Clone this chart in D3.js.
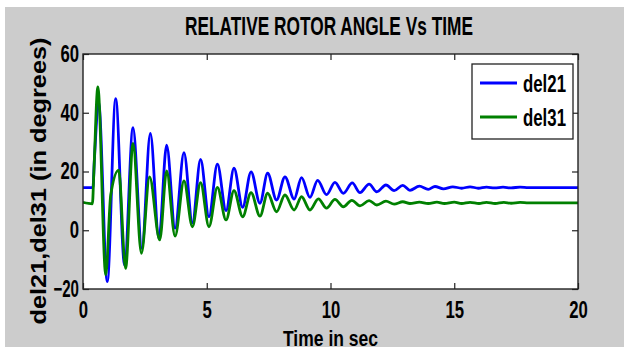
<!DOCTYPE html>
<html>
<head>
<meta charset="utf-8">
<script src="https://cdn.jsdelivr.net/npm/d3@7"></script>
<style>
    html, body { margin: 0; padding: 0; background: #ffffff; }
    svg { display: block; }
    text { font-family: "Liberation Sans", Arial, sans-serif; font-weight: bold; fill: #000; }
</style>
</head>
<body>
<div id="chart"></div>
<script>
// Relative rotor angle data (degrees vs seconds)
const timeDel21 = [0, 0.40, 0.46, 0.63, 0.98, 1.32, 1.68, 2.02, 2.38, 2.72,
    3.07, 3.38, 3.72, 4.08, 4.42, 4.75, 5.09, 5.43, 5.78, 6.10,
    6.45, 6.79, 7.15, 7.46, 7.82, 8.16, 8.53, 8.83, 9.17, 9.48,
    9.84, 10.18, 10.52, 10.88, 11.19, 11.56, 11.87, 12.24, 12.57, 12.92,
    13.21, 13.59, 13.95, 14.22, 14.56, 14.94, 15.3, 15.64, 15.97, 16.3,
    16.63, 16.97, 17.3, 17.66, 18.0, 20];
const del21 = [14.5, 14.5, 24, 43.5, -17.5, 44.8, -11.8, 34.9, -6.2, 33,
    -2.8, 29, 0.7, 26.4, 2.5, 24.1, 4.6, 22.5, 6.7, 21.1,
    7.8, 19.9, 9.2, 19.4, 10.3, 18.2, 10.6, 17.9, 11.2, 17.0,
    12.1, 16.3, 12.6, 16.1, 12.8, 15.7, 13.1, 15.4, 13.5, 15.3,
    13.6, 15.0, 13.9, 14.9, 14.1, 14.8, 14.3, 14.8, 14.3, 14.7,
    14.4, 14.7, 14.4, 14.7, 14.5, 14.5];

const timeDel31 = [0, 0.38, 0.44, 0.60, 0.92, 1.12, 1.44, 1.72, 2.02, 2.36,
    2.69, 3.10, 3.38, 3.72, 4.08, 4.42, 4.75, 5.09, 5.43, 5.78,
    6.10, 6.45, 6.79, 7.15, 7.46, 7.82, 8.16, 8.53, 8.83, 9.17,
    9.51, 9.84, 10.18, 10.52, 10.86, 11.19, 11.56, 11.87, 12.24, 12.57,
    12.92, 13.21, 13.59, 13.95, 14.3, 14.6, 15.0, 15.3, 15.64, 16.0,
    16.3, 16.65, 17.0, 17.3, 17.66, 18.0, 20];
const del31 = [9.5, 9.0, 20, 48.8, -15.2, 12, 20.5, -13, 29.6, -7.9,
    18.2, -3.3, 20.2, -2.0, 16.8, 1.2, 16.2, 1.2, 14.6, 3.5,
    13.5, 4.6, 12.8, 4.8, 12.6, 6.3, 12.0, 6.9, 11.4, 6.9,
    10.7, 7.5, 10.5, 8.0, 10.2, 8.3, 10.1, 8.6, 9.9, 8.9,
    9.7, 9.1, 9.6, 9.1, 9.6, 9.1, 9.6, 9.1, 9.5, 9.1,
    9.5, 9.1, 9.5, 9.2, 9.5, 9.3, 9.3];

const xTicks = [0, 5, 10, 15, 20];
const yTicks = [-20, 0, 20, 40, 60];
const seriesNames = ['del21', 'del31'];
const seriesColors = ['#0000ff', '#008000'];

const W = 624, H = 347;
const plot = { left: 83, right: 578, top: 54, bottom: 289 };

const svg = d3.select('#chart')
    .append('svg')
    .attr('width', W)
    .attr('height', H);

// figure background (grey, with a white strip above and left)
svg.append('rect').attr('x', 5).attr('y', 7).attr('width', W - 5).attr('height', H - 7).attr('fill', '#cccccc');
svg.append('rect')
    .attr('x', plot.left).attr('y', plot.top)
    .attr('width', plot.right - plot.left).attr('height', plot.bottom - plot.top)
    .attr('fill', '#ffffff');

const x = d3.scaleLinear().domain([0, 20]).range([plot.left, plot.right]);
const y = d3.scaleLinear().domain([-20, 60]).range([plot.bottom, plot.top]);

// narrow bold text: squeeze digits to match the figure
const numWidth = s => String(s).replace('-', '').length * 9.3 + (String(s).includes('-') ? 7 : 0);

svg.append('g')
    .attr('transform', `translate(0,${plot.bottom})`)
    .call(d3.axisBottom(x).tickValues(xTicks).tickSizeInner(-6).tickSizeOuter(0).tickPadding(13))
    .call(g => g.selectAll('text')
        .attr('font-size', 23)
        .attr('textLength', d => numWidth(d))
        .attr('lengthAdjust', 'spacingAndGlyphs'));

svg.append('g')
    .attr('transform', `translate(${plot.left},0)`)
    .call(d3.axisLeft(y).tickValues(yTicks).tickSizeInner(-6).tickSizeOuter(0).tickPadding(4))
    .call(g => g.selectAll('text')
        .attr('font-size', 23)
        .attr('textLength', d => numWidth(d))
        .attr('lengthAdjust', 'spacingAndGlyphs'));

svg.append('g')
    .attr('transform', `translate(0,${plot.top})`)
    .call(d3.axisTop(x).tickValues(xTicks).tickSizeInner(-6).tickSizeOuter(0).tickFormat(''));

svg.append('g')
    .attr('transform', `translate(${plot.right},0)`)
    .call(d3.axisRight(y).tickValues(yTicks).tickSizeInner(-6).tickSizeOuter(0).tickFormat(''));

svg.selectAll('.domain').remove();
svg.selectAll('.tick line').attr('stroke', '#222').attr('stroke-width', 1.2);

// series lines
const line = d3.line()
    .x(d => x(d[0]))
    .y(d => y(d[1]))
    .curve(d3.curveMonotoneX);

const series = [
    d3.zip(timeDel21, del21),
    d3.zip(timeDel31, del31)
];

svg.append('clipPath').attr('id', 'plotClip')
    .append('rect')
    .attr('x', plot.left).attr('y', plot.top)
    .attr('width', plot.right - plot.left).attr('height', plot.bottom - plot.top);

svg.append('g')
    .attr('clip-path', 'url(#plotClip)')
    .selectAll('path')
    .data(series)
    .enter()
    .append('path')
    .attr('d', line)
    .attr('fill', 'none')
    .attr('stroke', (d, i) => seriesColors[i])
    .attr('stroke-width', 2.8)
    .attr('stroke-linejoin', 'round');

// axes box
svg.append('rect')
    .attr('x', plot.left).attr('y', plot.top)
    .attr('width', plot.right - plot.left).attr('height', plot.bottom - plot.top)
    .attr('fill', 'none')
    .attr('stroke', '#222')
    .attr('stroke-width', 1.4);

// legend
const legend = svg.append('g');
legend.append('rect')
    .attr('x', 472).attr('y', 64)
    .attr('width', 101).attr('height', 75)
    .attr('fill', '#ffffff')
    .attr('stroke', '#222')
    .attr('stroke-width', 1.3);

seriesNames.forEach((name, i) => {
    const ly = 83 + i * 34;
    legend.append('line')
        .attr('x1', 480).attr('x2', 517)
        .attr('y1', ly).attr('y2', ly)
        .attr('stroke', seriesColors[i])
        .attr('stroke-width', 2.8);
    legend.append('text')
        .attr('x', 523).attr('y', ly + 9)
        .attr('font-size', 24)
        .attr('textLength', 43)
        .attr('lengthAdjust', 'spacingAndGlyphs')
        .text(name);
});

// title and axis labels
svg.append('text')
    .attr('x', 329).attr('y', 35)
    .attr('text-anchor', 'middle')
    .attr('font-size', 25)
    .attr('textLength', 288)
    .attr('lengthAdjust', 'spacingAndGlyphs')
    .text('RELATIVE ROTOR ANGLE Vs TIME');

svg.append('text')
    .attr('x', 330.5).attr('y', 346)
    .attr('text-anchor', 'middle')
    .attr('font-size', 22)
    .attr('textLength', 95)
    .attr('lengthAdjust', 'spacingAndGlyphs')
    .text('Time in sec');

svg.append('text')
    .attr('transform', 'translate(46,181) rotate(-90)')
    .attr('text-anchor', 'middle')
    .attr('font-size', 22)
    .attr('textLength', 287)
    .attr('lengthAdjust', 'spacingAndGlyphs')
    .text('del21,del31 (in degrees)');
</script>
</body>
</html>
